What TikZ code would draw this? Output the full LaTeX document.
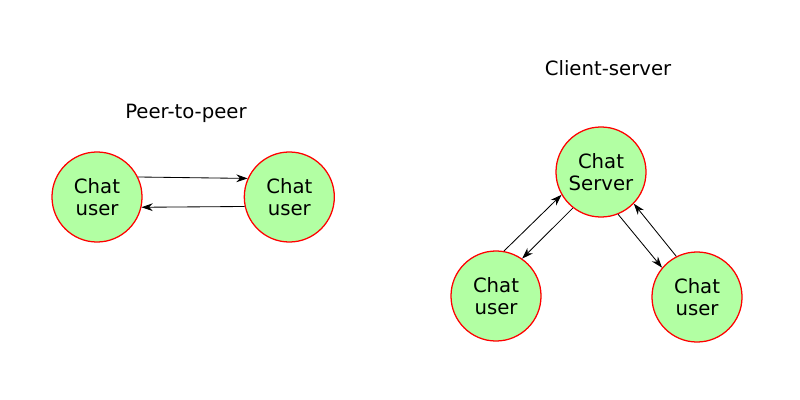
\documentclass[tikz,border=0pt]{standalone}
\usepackage{fontspec}
\setmainfont{DejaVu Sans}
\usetikzlibrary{positioning,arrows.meta}
\definecolor{chatgreen}{RGB}{178,255,163}

\begin{document}
\begin{tikzpicture} [
	x=0.025cm, y=-0.025cm,
	node distance=2.525cm,
	peer/.style={
		circle,draw=red,fill=chatgreen,line width=0.9pt,
		minimum size=2.25cm,inner sep=0pt,
		align=center,font=\fontsize{14}{16}\selectfont},
	title/.style={
		font=\fontsize{14}{16}\selectfont},
	tip/.style={
		-{Stealth[length=8pt,width=5.5pt]},line width=0.6pt}]
\useasboundingbox (0,0) rectangle (800,400);
% peer-to-peer
\node [title]	(p2p title) at (186,113)		{Peer-to-peer};
\node [peer]	(user a) at (97,197)			{Chat\\user};
\node [peer]	(user b) [right=of user a]		{Chat\\user};
\draw[tip] (user a.26) -- (user b.156);
\draw[tip] (user b.192) -- (user a.-13);
% client-server
\node [title]	(cs title) at (608,68)		{Client-server};
\node [peer]	(server) at (601,172)			{Chat\\Server};
\node [peer]	(user c) at (496,296)			{Chat\\user};
\node [peer]	(user d) at (697,297)			{Chat\\user};
\draw[tip] (user c.80) -- (server.210);
\draw[tip] (server.232) -- (user c.55);
\draw[tip] (server.292) -- (user d.140);
\draw[tip] (user d.117) -- (server.316);
\end{tikzpicture}
\end{document}
